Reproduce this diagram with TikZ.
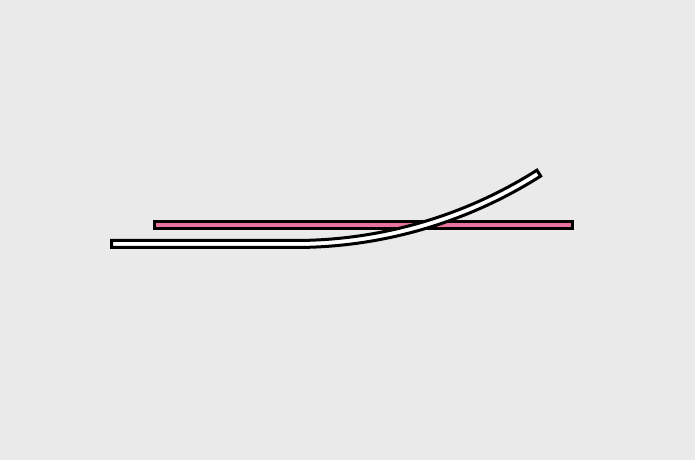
\documentclass[tikz,border=0pt]{standalone}
\usepackage{tikz}
\definecolor{bggray}{RGB}{234,234,234}
\definecolor{railpink}{RGB}{232,115,158}

\begin{document}
\begin{tikzpicture}[x=1pt,y=1pt,line width=3pt,line join=miter]
  \fill[bggray] (0,0) rectangle (695,460);
  \useasboundingbox (0,0) rectangle (695,460);
  \draw[fill=railpink] (154.5,231.25) rectangle (572.5,238.5);
  \draw[fill=white] (111.5,212.5) -- (295,212.5)
    arc[start angle=-90, end angle=-57.6, radius=458.5]
    -- ++(122.4:7)
    arc[start angle=-57.6, end angle=-90, radius=451.5]
    -- (111.5,219.5) -- cycle;
\end{tikzpicture}
\end{document}
